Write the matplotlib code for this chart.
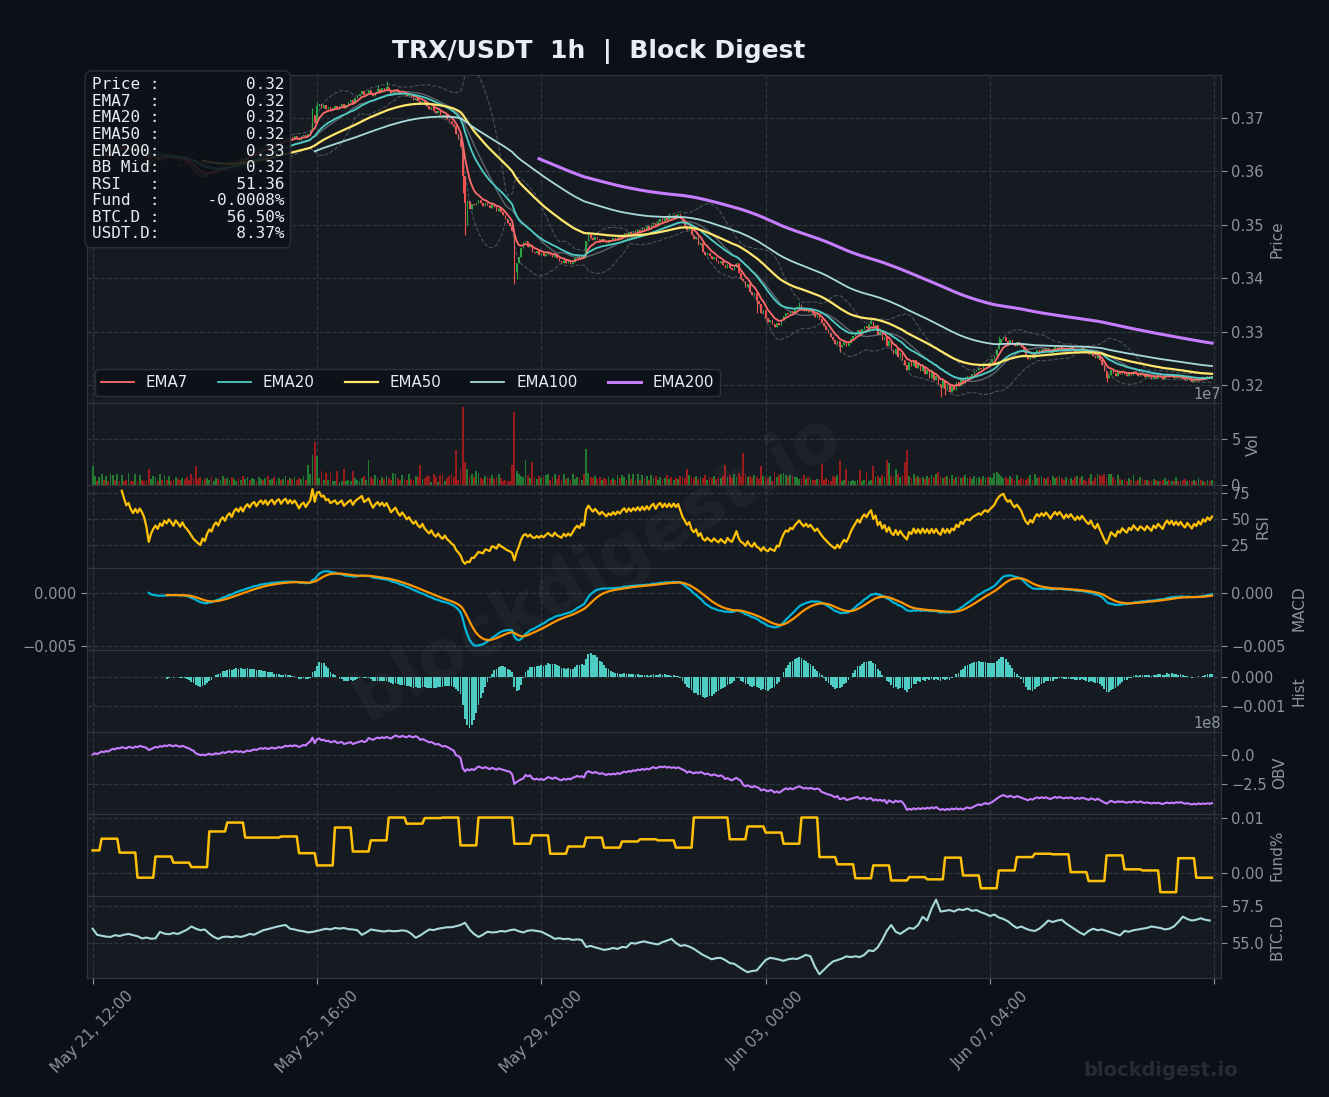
import numpy as np
import pandas as pd
import matplotlib
matplotlib.use("Agg")
import matplotlib.pyplot as plt
from matplotlib.ticker import MultipleLocator, FixedLocator, FuncFormatter

# ---- data ----
start = pd.Timestamp("2025-05-21 12:00")

# hourly closes, in units of 0.0001 USDT
close_raw = [
    3622, 3626, 3624, 3629, 3633, 3631, 3636, 3634, 3639, 3642,
    3640, 3645, 3643, 3647, 3644, 3641, 3643, 3640, 3638, 3641,
    3639, 3642, 3640, 3637, 3630, 3612, 3618, 3622, 3625, 3621,
    3626, 3623, 3628, 3625, 3629, 3626, 3622, 3627, 3624, 3620,
    3624, 3619, 3616, 3612, 3607, 3601, 3597, 3593, 3589, 3594,
    3589, 3595, 3599, 3596, 3602, 3605, 3601, 3607, 3610, 3606,
    3612, 3615, 3611, 3618, 3622, 3619, 3625, 3621, 3628, 3632,
    3629, 3635, 3638, 3634, 3640, 3644, 3641, 3647, 3643, 3649,
    3652, 3648, 3654, 3657, 3653, 3659, 3662, 3658, 3664, 3661,
    3666, 3663, 3659, 3665, 3668, 3664, 3670, 3675, 3705, 3690,
    3722, 3726, 3719, 3723, 3716, 3720, 3714, 3718, 3722, 3717,
    3721, 3726, 3719, 3724, 3729, 3733, 3727, 3736, 3741, 3745,
    3750, 3743, 3747, 3752, 3746, 3741, 3748, 3753, 3749, 3755,
    3751, 3757, 3752, 3746, 3750, 3754, 3748, 3744, 3749, 3745,
    3740, 3743, 3738, 3734, 3737, 3731, 3728, 3732, 3725, 3721,
    3717, 3720, 3713, 3709, 3712, 3706, 3702, 3705, 3698, 3694,
    3688, 3684, 3670, 3660, 3645, 3592, 3540, 3544, 3530, 3538,
    3536, 3541, 3546, 3540, 3535, 3541, 3537, 3531, 3538, 3534,
    3526, 3532, 3524, 3518, 3510, 3503, 3498, 3488, 3412, 3428,
    3440, 3456, 3467, 3470, 3458, 3463, 3450, 3447, 3451, 3444,
    3448, 3442, 3446, 3450, 3443, 3439, 3445, 3437, 3433, 3429,
    3435, 3428, 3432, 3426, 3431, 3437, 3441, 3436, 3443, 3439,
    3470, 3482, 3476, 3471, 3478, 3473, 3468, 3474, 3470, 3466,
    3472, 3469, 3475, 3471, 3477, 3474, 3480, 3484, 3479, 3486,
    3482, 3488, 3485, 3491, 3487, 3494, 3490, 3497, 3493, 3500,
    3504, 3498, 3506, 3510, 3505, 3512, 3508, 3515, 3511, 3518,
    3514, 3520, 3512, 3503, 3497, 3490, 3494, 3480, 3474, 3478,
    3462, 3466, 3450, 3444, 3448, 3441, 3436, 3440, 3433, 3428,
    3432, 3425, 3420, 3426, 3419, 3415, 3421, 3428, 3410, 3398,
    3394, 3383, 3389, 3374, 3368, 3373, 3357, 3351, 3336, 3341,
    3325, 3318, 3322, 3314, 3309, 3316, 3312, 3322, 3330, 3336,
    3333, 3339, 3336, 3342, 3346, 3350, 3344, 3339, 3343, 3337,
    3340, 3334, 3328, 3331, 3324, 3317, 3310, 3304, 3297, 3290,
    3284, 3278, 3282, 3271, 3276, 3280, 3274, 3279, 3286, 3292,
    3297, 3303, 3298, 3306, 3311, 3307, 3314, 3319, 3306, 3312,
    3294, 3300, 3285, 3291, 3274, 3282, 3266, 3259, 3268, 3252,
    3260, 3248, 3238, 3229, 3243, 3236, 3247, 3232, 3240, 3226,
    3236, 3221, 3229, 3214, 3224, 3209, 3218, 3203, 3196, 3210,
    3194, 3203, 3188, 3199, 3192, 3206, 3198, 3212, 3205, 3216,
    3218, 3215, 3222, 3226, 3229, 3233, 3230, 3237, 3241, 3238,
    3244, 3249, 3255, 3268, 3279, 3286, 3290, 3283, 3279, 3284,
    3278, 3274, 3280, 3276, 3271, 3262, 3254, 3249, 3256, 3251,
    3260, 3266, 3262, 3268, 3264, 3270, 3266, 3261, 3267, 3272,
    3268, 3273, 3269, 3264, 3270, 3266, 3271, 3267, 3263, 3268,
    3264, 3269, 3265, 3261, 3258, 3262, 3255, 3251, 3256, 3247,
    3238, 3226, 3214, 3220, 3228, 3223, 3218, 3225, 3221, 3227,
    3222, 3218, 3224, 3220, 3226, 3221, 3217, 3222, 3219, 3215,
    3220, 3216, 3212, 3218, 3214, 3219, 3215, 3211, 3217, 3221,
    3216, 3220, 3214, 3218, 3213, 3217, 3212, 3209, 3214, 3210,
    3206, 3211, 3208, 3213, 3209, 3215, 3212, 3217, 3214, 3218,
]

# long wicks that stand out (index: price in 0.0001 units)
wick_hi = {98: 3718, 100: 3730, 127: 3762, 131: 3768, 257: 3522, 315: 3356, 347: 3324, 404: 3293}
wick_lo = {165: 3560, 166: 3480, 167: 3500, 188: 3390, 189: 3398, 296: 3335, 333: 3262,
           378: 3178, 380: 3182, 452: 3206}

# hourly volume, millions
vol_raw = [
    21, 10, 5, 9, 12, 6, 10, 5, 13, 11,
    6, 13, 5, 11, 5, 6, 14, 5, 5, 12,
    5, 11, 6, 5, 6, 18, 7, 10, 9, 5,
    12, 6, 11, 6, 10, 5, 6, 9, 7, 6,
    8, 7, 9, 6, 12, 8, 21, 7, 9, 6,
    7, 8, 6, 9, 5, 8, 7, 6, 10, 7,
    8, 6, 9, 7, 5, 8, 6, 10, 7, 9,
    6, 8, 7, 5, 9, 7, 6, 8, 10, 6,
    7, 9, 5, 8, 6, 7, 10, 6, 8, 7,
    9, 6, 8, 7, 10, 6, 22, 12, 33, 47,
    32, 8, 16, 6, 14, 6, 14, 5, 5, 16,
    4, 5, 18, 5, 6, 5, 16, 8, 6, 5,
    8, 10, 6, 28, 9, 7, 11, 8, 6, 9,
    7, 10, 8, 6, 14, 12, 8, 6, 11, 7,
    6, 13, 7, 6, 10, 9, 22, 7, 8, 10,
    10, 4, 12, 9, 4, 11, 11, 5, 8, 10,
    12, 9, 39, 6, 18, 85, 26, 18, 10, 12,
    9, 16, 14, 8, 7, 10, 9, 8, 11, 7,
    9, 12, 8, 5, 6, 5, 5, 22, 80, 16,
    12, 10, 9, 28, 11, 8, 26, 9, 7, 10,
    8, 9, 11, 13, 6, 9, 12, 7, 11, 6,
    13, 7, 8, 6, 13, 7, 9, 8, 6, 12,
    40, 14, 9, 8, 10, 7, 9, 6, 8, 7,
    9, 6, 8, 6, 11, 8, 11, 9, 6, 12,
    7, 13, 6, 12, 6, 11, 8, 10, 6, 11,
    8, 10, 6, 9, 7, 8, 11, 7, 9, 6,
    8, 7, 10, 9, 8, 18, 11, 9, 8, 10,
    7, 9, 8, 11, 6, 9, 8, 10, 7, 9,
    8, 10, 22, 9, 11, 8, 12, 9, 14, 10,
    35, 12, 9, 10, 8, 11, 9, 7, 21, 10,
    9, 8, 10, 5, 15, 9, 11, 12, 14, 11,
    9, 11, 10, 9, 9, 7, 8, 11, 7, 9,
    8, 6, 6, 7, 7, 23, 6, 8, 6, 5,
    10, 9, 11, 27, 5, 6, 18, 5, 5, 6,
    5, 6, 17, 5, 6, 15, 5, 6, 21, 9,
    10, 8, 11, 9, 28, 24, 10, 9, 18, 12,
    9, 11, 26, 39, 10, 8, 12, 9, 10, 8,
    9, 7, 10, 8, 11, 9, 12, 15, 10, 8,
    9, 10, 8, 11, 7, 9, 10, 8, 9, 11,
    8, 9, 7, 10, 8, 9, 7, 10, 8, 9,
    9, 8, 14, 15, 12, 10, 8, 9, 7, 10,
    8, 6, 11, 6, 8, 7, 6, 8, 11, 6,
    12, 8, 9, 10, 8, 7, 9, 6, 10, 8,
    9, 10, 8, 6, 9, 7, 8, 6, 9, 10,
    8, 10, 6, 5, 8, 13, 5, 9, 12, 11,
    10, 12, 9, 12, 12, 9, 6, 11, 7, 6,
    7, 5, 8, 6, 11, 5, 6, 9, 7, 6,
    6, 5, 5, 7, 6, 5, 5, 6, 8, 5,
    6, 5, 5, 9, 5, 5, 6, 7, 5, 6,
    5, 6, 5, 8, 6, 5, 4, 6, 5, 6,
]

# funding rate (%), first partial period of 4h then one value per 8h
fund_8h = [
    0.0041, 0.0062, 0.0037, -0.0008, 0.0030, 0.0019, 0.0011, 0.0075, 0.0091, 0.0064,
    0.0064, 0.0066, 0.0036, 0.0014, 0.0082, 0.0039, 0.0059, 0.0100, 0.0089, 0.0099,
    0.0100, 0.0050, 0.0100, 0.0100, 0.0053, 0.0068, 0.0035, 0.0048, 0.0064, 0.0046,
    0.0057, 0.0061, 0.0059, 0.0046, 0.0100, 0.0100, 0.0061, 0.0084, 0.0073, 0.0053,
    0.0100, 0.0029, 0.0016, -0.0009, 0.0014, -0.0013, -0.0007, -0.0011, 0.0028, -0.0004,
    -0.0027, 0.0005, 0.0029, 0.0035, 0.0034, 0.0002, -0.0014, 0.0032, 0.0007, 0.0005,
    -0.0034, 0.0027, -0.0008,
]

# BTC dominance (%), every 2 hours
btcd_2h = [
    55.95, 55.54, 55.48, 55.42, 55.40, 55.52, 55.46, 55.55, 55.60, 55.52,
    55.45, 55.30, 55.36, 55.28, 55.30, 55.74, 55.62, 55.58, 55.66, 55.60,
    55.74, 55.88, 56.10, 55.95, 55.85, 55.90, 55.62, 55.40, 55.27, 55.40,
    55.42, 55.38, 55.45, 55.40, 55.48, 55.60, 55.55, 55.70, 55.85, 55.92,
    56.00, 56.08, 56.15, 56.20, 55.95, 55.90, 55.82, 55.78, 55.70, 55.74,
    55.80, 55.88, 55.95, 55.90, 56.00, 55.96, 56.00, 55.92, 55.90, 55.85,
    55.54, 55.70, 55.90, 55.85, 55.80, 55.76, 55.82, 55.78, 55.80, 55.84,
    55.80, 55.62, 55.34, 55.50, 55.70, 55.90, 55.86, 55.95, 56.00, 56.05,
    56.05, 56.12, 56.20, 56.35, 55.90, 55.60, 55.40, 55.55, 55.75, 55.70,
    55.72, 55.80, 55.76, 55.85, 55.90, 55.78, 55.70, 55.82, 55.85, 55.80,
    55.75, 55.60, 55.45, 55.27, 55.32, 55.25, 55.28, 55.20, 55.24, 55.20,
    54.73, 54.80, 54.70, 54.62, 54.53, 54.58, 54.66, 54.60, 54.73, 54.70,
    55.00, 54.95, 55.05, 55.10, 55.02, 54.95, 54.90, 55.05, 55.15, 55.27,
    55.00, 54.80, 54.85, 54.75, 54.60, 54.40, 54.20, 54.05, 53.90, 53.98,
    54.00, 53.85, 53.65, 53.60, 53.40, 53.20, 53.04, 53.12, 53.15, 53.50,
    53.85, 54.00, 53.95, 53.88, 53.80, 53.90, 53.95, 53.92, 54.05, 54.20,
    54.10, 53.40, 52.90, 53.20, 53.50, 53.75, 53.85, 53.95, 54.10, 54.05,
    54.10, 54.05, 54.20, 54.50, 54.45, 54.70, 55.20, 55.80, 56.20, 55.75,
    55.60, 55.80, 56.00, 55.95, 56.20, 56.75, 56.50, 57.30, 57.90, 57.10,
    57.15, 57.20, 57.10, 57.25, 57.20, 57.30, 57.15, 57.20, 57.05, 56.95,
    56.80, 56.90, 56.70, 56.60, 56.45, 56.20, 56.00, 56.10, 55.95, 55.85,
    55.80, 55.95, 56.20, 56.50, 56.40, 56.50, 56.55, 56.30, 56.10, 55.90,
    55.70, 55.55, 55.80, 55.95, 55.85, 55.90, 55.80, 55.70, 55.60, 55.50,
    55.80, 55.75, 55.85, 55.90, 55.95, 56.00, 56.10, 56.05, 56.00, 55.90,
    55.95, 56.10, 56.40, 56.76, 56.60, 56.50, 56.55, 56.65, 56.55, 56.50,
]

info_labels = ["Price", "EMA7", "EMA20", "EMA50", "EMA200", "BB Mid", "RSI", "Fund", "BTC.D", "USDT.D"]
info_values = ["0.32", "0.32", "0.32", "0.32", "0.33", "0.32", "51.36", "-0.0008%", "56.50%", "8.37%"]

ema_periods = [7, 20, 50, 100, 200]
ema_colors = ["#ff6b6b", "#4ecdc4", "#ffe66d", "#a8dadc", "#c77dff"]
ema_widths = [1.3, 1.3, 1.6, 1.3, 2.2]

# ---- series ----
close = np.array(close_raw) / 1e4
n = len(close)
x = np.arange(n)
opn = np.r_[close[0], close[:-1]]
high = np.maximum(opn, close)
low = np.minimum(opn, close)
for k, v in wick_hi.items():
    high[k] = max(high[k], v / 1e4)
for k, v in wick_lo.items():
    low[k] = min(low[k], v / 1e4)
volume = np.array(vol_raw) * 1e6
funding = np.r_[np.full(4, fund_8h[0]), np.repeat(fund_8h[1:], 8)][:n]
btcd = np.array(btcd_2h)
btcd_x = np.arange(0, n, 2)
dates = [start + pd.Timedelta(hours=int(i)) for i in x]

s = pd.Series(close)
emas = {p: s.ewm(span=p, adjust=False, min_periods=p).mean() for p in ema_periods}
bb_mid = s.rolling(20).mean()
bb_std = s.rolling(20).std(ddof=0)
delta = s.diff()
gain = delta.clip(lower=0).fillna(0)
loss = (-delta.clip(upper=0)).fillna(0)
avg_g = gain.ewm(alpha=1 / 14, adjust=False, min_periods=14).mean()
avg_l = loss.ewm(alpha=1 / 14, adjust=False, min_periods=14).mean()
rsi = 100 - 100 / (1 + avg_g / avg_l)
macd = s.ewm(span=12, adjust=False).mean() - s.ewm(span=26, adjust=False).mean()
macd[:25] = np.nan
signal = macd.ewm(span=9, adjust=False, min_periods=9).mean()
hist = macd - signal
obv = (np.sign(delta).fillna(0) * volume).cumsum()

# ---- style ----
FIG_BG = "#0d1117"
AX_BG = "#161b22"
GRID = "#30363d"
TXT = "#8b949e"
UP, DOWN = "#26a641", "#f0524d"
VUP, VDOWN = "#237a33", "#9a1b1b"

fig = plt.figure(figsize=(13.29, 10.97), dpi=100, facecolor=FIG_BG)
gs = fig.add_gridspec(8, 1, height_ratios=[4, 1, 1, 1, 1, 1, 1, 1], hspace=0,
                      left=0.0655, right=0.9187, top=0.9316, bottom=0.1085)
axes = [fig.add_subplot(gs[0])]
for i in range(1, 8):
    axes.append(fig.add_subplot(gs[i], sharex=axes[0]))
ax_p, ax_v, ax_rsi, ax_macd, ax_h, ax_obv, ax_f, ax_b = axes

for ax in axes:
    ax.set_facecolor(AX_BG)
    ax.grid(True, color=GRID, linestyle="--", linewidth=0.9)
    ax.set_axisbelow(True)
    ax.yaxis.tick_right()
    ax.yaxis.set_label_position("right")
    ax.tick_params(colors=TXT, labelsize=10.5, length=4)
    ax.yaxis.get_offset_text().set_color(TXT)
    ax.yaxis.get_offset_text().set_fontsize(10.5)
    for sp in ax.spines.values():
        sp.set_color(GRID)
    if ax is not ax_b:
        ax.tick_params(axis="x", labelbottom=False)

# price panel
up = close >= opn
ccol = np.where(up, UP, DOWN)
ax_p.vlines(x, low, high, colors=ccol, linewidth=0.8, zorder=2)
ax_p.bar(x, np.maximum(np.abs(close - opn), 0.00004), bottom=np.minimum(opn, close),
         width=0.6, color=ccol, linewidth=0, zorder=2)
ax_p.plot(x, bb_mid + 2 * bb_std, color=TXT, lw=0.8, ls="--", alpha=0.45, zorder=3)
ax_p.plot(x, bb_mid - 2 * bb_std, color=TXT, lw=0.8, ls="--", alpha=0.45, zorder=3)
ax_p.plot(x, bb_mid, color=TXT, lw=1.0, alpha=0.6, zorder=3)
for p, c, w in zip(ema_periods, ema_colors, ema_widths):
    ax_p.plot(x, emas[p], color=c, lw=w, label=f"EMA{p}", zorder=4)
rng = high.max() - low.min()
ax_p.set_ylim(low.min() - 0.02 * rng, high.max() + 0.02 * rng)
ax_p.yaxis.set_major_locator(MultipleLocator(0.01))
ax_p.set_ylabel("Price", color=TXT, fontsize=11)
ax_p.legend(loc="lower left", ncol=5, fontsize=10.8, facecolor=FIG_BG,
            edgecolor=GRID, labelcolor="#e6edf3", framealpha=0.9, handlelength=2.2)

info = "\n".join(f"{lab:<6}:{val:>13}" for lab, val in zip(info_labels, info_values))
ax_p.text(0.004, 0.993, info, transform=ax_p.transAxes, va="top", ha="left",
          family="DejaVu Sans Mono", fontsize=11.5, color="#e6edf3", linespacing=1.13, zorder=10,
          bbox=dict(boxstyle="round,pad=0.4", facecolor=FIG_BG, edgecolor=GRID, alpha=0.88))

# volume
ax_v.bar(x, volume, width=0.8, color=np.where(up, VUP, VDOWN), linewidth=0)
ax_v.yaxis.set_major_locator(MultipleLocator(5e7))
ax_v.set_ylabel("Vol", color=TXT, fontsize=11)

# RSI
ax_rsi.plot(x, rsi, color="#ffc107", lw=1.6)
ax_rsi.yaxis.set_major_locator(FixedLocator([25, 50, 75]))
ax_rsi.set_ylabel("RSI", color=TXT, fontsize=11)

# MACD
ax_macd.plot(x, macd, color="#00b4d8", lw=1.6)
ax_macd.plot(x, signal, color="#ff9500", lw=1.6)
ax_macd.yaxis.set_major_locator(MultipleLocator(0.005))
ax_macd.tick_params(axis="y", left=True, labelleft=True)
ax_macd.set_ylabel("MACD", color=TXT, fontsize=11)

# histogram
ax_h.bar(x, hist, width=0.8, color="#4ecdc4", linewidth=0)
ax_h.yaxis.set_major_locator(MultipleLocator(0.001))
ax_h.set_ylabel("Hist", color=TXT, fontsize=11)

# OBV
ax_obv.plot(x, obv, color="#c77dff", lw=1.5)
ax_obv.yaxis.set_major_locator(MultipleLocator(2.5e8))
ax_obv.set_ylabel("OBV", color=TXT, fontsize=11)

# funding
ax_f.plot(x, funding, color="#ffc107", lw=1.8)
ax_f.yaxis.set_major_locator(MultipleLocator(0.01))
ax_f.set_ylabel("Fund%", color=TXT, fontsize=11)

# BTC dominance
ax_b.plot(btcd_x, btcd, color="#a8dadc", lw=1.5)
ax_b.yaxis.set_major_locator(MultipleLocator(2.5))
ax_b.set_ylabel("BTC.D", color=TXT, fontsize=11)

ax_b.set_xlim(-2.5, n + 3)
ax_b.xaxis.set_major_locator(MultipleLocator(100))
ax_b.xaxis.set_major_formatter(FuncFormatter(
    lambda v, pos: dates[int(round(v))].strftime("%b %d, %H:%M") if 0 <= int(round(v)) < n else ""))
ax_b.tick_params(axis="x", labelsize=11)
plt.setp(ax_b.get_xticklabels(), rotation=45, ha="center")

fig.text(0.4507, 0.9526, "TRX/USDT  1h  |  Block Digest", ha="center", va="center",
         fontsize=18, fontweight="bold", color="#e6edf3")
fig.text(0.449, 0.483, "blockdigest.io", ha="center", va="center", fontsize=50,
         fontweight="bold", color="white", alpha=0.035, rotation=30)
fig.text(0.9315, 0.024, "blockdigest.io", ha="right", va="center", fontsize=14,
         fontweight="bold", color="#262c35")

fig.savefig("out.png", dpi=100, facecolor=FIG_BG)
